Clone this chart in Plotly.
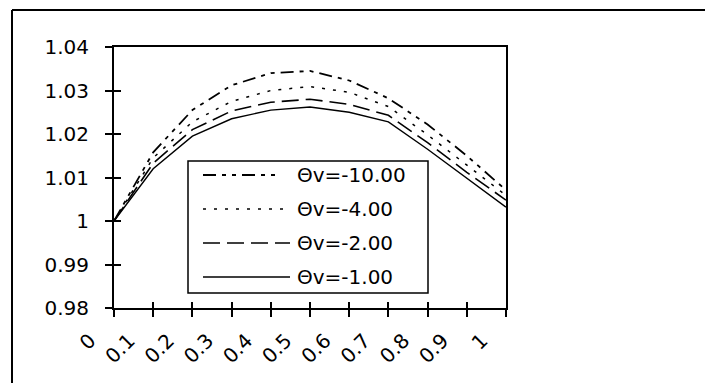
import plotly.graph_objects as go

# ---------------- data ----------------
x_vals = [0.0, 0.1, 0.2, 0.3, 0.4, 0.5, 0.6, 0.7, 0.8, 0.9, 1.0]
x_tick_labels = ["0", "0.1", "0.2", "0.3", "0.4", "0.5", "0.6", "0.7", "0.8", "0.9", "1"]
y_tick_vals = [0.98, 0.99, 1.00, 1.01, 1.02, 1.03, 1.04]
y_tick_labels = ["0.98", "0.99", "1", "1.01", "1.02", "1.03", "1.04"]

series_names = ["Θv=-10.00", "Θv=-4.00", "Θv=-2.00", "Θv=-1.00"]
theta_m10 = [1.000, 1.0158, 1.0255, 1.0312, 1.0340, 1.0345, 1.0323, 1.0282, 1.0222, 1.0150, 1.0071]
theta_m4 = [1.000, 1.0145, 1.0228, 1.0275, 1.0300, 1.0309, 1.0296, 1.0263, 1.0198, 1.0128, 1.0059]
theta_m2 = [1.000, 1.0133, 1.0210, 1.0253, 1.0273, 1.0280, 1.0268, 1.0243, 1.0180, 1.0112, 1.0048]
theta_m1 = [1.000, 1.0120, 1.0195, 1.0235, 1.0255, 1.0262, 1.0250, 1.0228, 1.0165, 1.0098, 1.0032]

series_values = [theta_m10, theta_m4, theta_m2, theta_m1]

# ---------------- styles ----------------
FONT = "DejaVu Sans"
FS = 20
dashes = ["13px,6px,4px,6px,4px,6px", "3px,8px", "17px,7px", "solid"]
widths = [1.8, 1.5, 1.6, 1.4]

W, H = 705, 383
L, T = 114, 47
R = W - 506
B = H - 308
pw, ph = W - L - R, H - T - B


def px_x(p):
    # page pixel -> paper coordinate
    return (p - L) / pw


def px_y(p):
    return (H - B - p) / ph


fig = go.Figure()
for name, vals, dsh, wd in zip(series_names, series_values, dashes, widths):
    fig.add_trace(go.Scatter(
        x=x_vals, y=vals, mode="lines", name=name,
        line=dict(color="black", width=wd, dash=dsh),
        showlegend=False, hoverinfo="skip",
    ))

# invisible trace on overlay axes for "cross" style ticks
fig.add_trace(go.Scatter(x=[x_vals[0]], y=[y_tick_vals[0]], xaxis="x2", yaxis="y2",
                         mode="markers", marker=dict(opacity=0), showlegend=False,
                         hoverinfo="skip"))

shapes = []
# outer chart frame (top and left edges visible)
shapes.append(dict(type="line", xref="paper", yref="paper",
                   x0=px_x(12), x1=px_x(705), y0=px_y(10), y1=px_y(10),
                   line=dict(color="black", width=2)))
shapes.append(dict(type="line", xref="paper", yref="paper",
                   x0=px_x(12), x1=px_x(12), y0=px_y(10), y1=px_y(383),
                   line=dict(color="black", width=2)))

# manual legend
shapes.append(dict(type="rect", xref="paper", yref="paper",
                   x0=px_x(188), x1=px_x(428), y0=px_y(293), y1=px_y(161),
                   line=dict(color="black", width=1.5), fillcolor="white", layer="above"))
row_y = [175, 209, 243, 277]
line_ends = [280, 288, 290, 290]
annotations = []
for name, dsh, wd, ry, le in zip(series_names, dashes, widths, row_y, line_ends):
    shapes.append(dict(type="line", xref="paper", yref="paper",
                       x0=px_x(203), x1=px_x(le), y0=px_y(ry), y1=px_y(ry),
                       line=dict(color="black", width=wd, dash=dsh), layer="above"))
    annotations.append(dict(xref="paper", yref="paper", x=px_x(295), y=px_y(ry),
                            xanchor="left", yanchor="middle", text=name, showarrow=False,
                            font=dict(family=FONT, size=FS, color="black")))

axis_common = dict(showgrid=False, zeroline=False, showline=True, linecolor="black",
                   linewidth=2, ticks="outside", ticklen=7, tickwidth=1.5,
                   tickcolor="black", mirror=True,
                   tickfont=dict(family=FONT, size=FS, color="black"))

fig.update_layout(
    width=W, height=H,
    margin=dict(l=L, r=R, t=T, b=B),
    paper_bgcolor="white", plot_bgcolor="white",
    showlegend=False,
    xaxis=dict(range=[0, 1], tickmode="array", tickvals=x_vals, ticktext=x_tick_labels,
               tickangle=-45, ticklabelshift=-24, ticklabelstandoff=4, **axis_common),
    yaxis=dict(range=[0.98, 1.04], tickmode="array", tickvals=y_tick_vals,
               ticktext=y_tick_labels, ticklabelstandoff=12, **axis_common),
    xaxis2=dict(range=[0, 1], overlaying="x", tickmode="array", tickvals=x_vals,
                showticklabels=False, ticks="inside", ticklen=6, tickwidth=1.5,
                tickcolor="black", showgrid=False, zeroline=False, showline=False,
                anchor="y2", side="bottom"),
    yaxis2=dict(range=[0.98, 1.04], overlaying="y", tickmode="array", tickvals=y_tick_vals,
                showticklabels=False, ticks="inside", ticklen=7, tickwidth=1.5,
                tickcolor="black", showgrid=False, zeroline=False, showline=False,
                anchor="x2", side="left"),
    shapes=shapes,
    annotations=annotations,
)

fig.write_html(
    "out.html",
    config={"displayModeBar": False},
    post_script=("document.documentElement.style.margin='0';"
                 "document.body.style.margin='0';"
                 "document.documentElement.style.overflow='hidden';"
                 "document.body.style.overflow='hidden';"),
)
